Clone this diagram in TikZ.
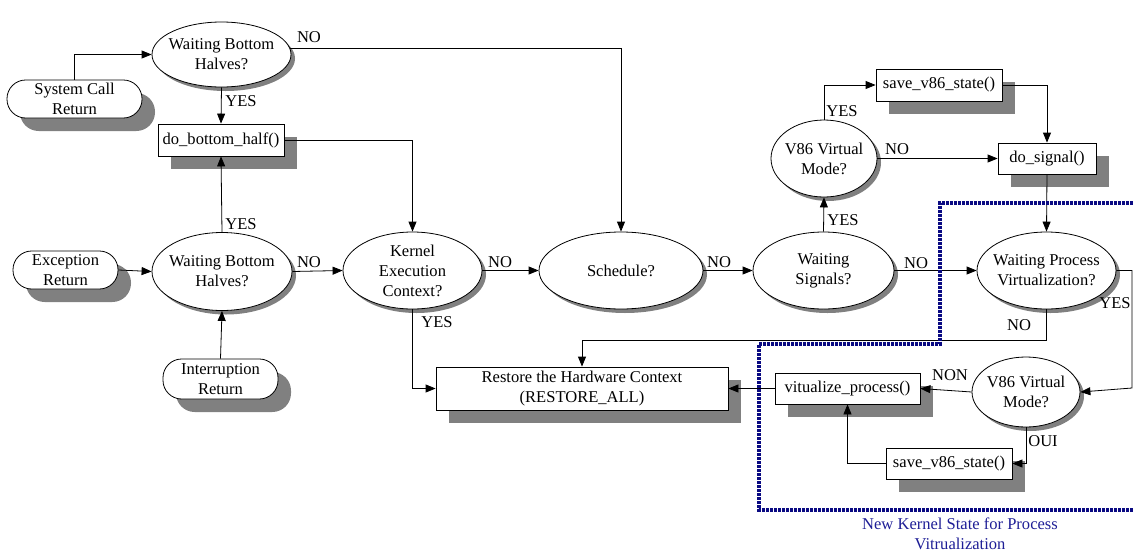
\documentclass[tikz,border=0pt]{standalone}
\usepackage{fontspec}
\setmainfont{Liberation Serif}
\usetikzlibrary{shapes.geometric,shadows,arrows.meta}
\definecolor{shadowgray}{RGB}{128,128,128}
\definecolor{navyline}{RGB}{10,10,130}
\definecolor{navytext}{RGB}{30,30,150}
\begin{document}
\begin{tikzpicture}[x=0.75pt,y=-0.75pt,
  font=\fontsize{12.4}{15}\selectfont,
  line width=0.6pt,
  ell/.style 2 args={ellipse, draw, fill=white, inner sep=0pt,
    minimum width=#1*0.75pt, minimum height=#2*0.75pt,
    drop shadow={shadow xshift=3pt, shadow yshift=-3pt, fill=shadowgray, opacity=1}},
  boxnode/.style 2 args={rectangle, draw, fill=white, inner sep=0pt, align=center,
    minimum width=#1*0.75pt, minimum height=#2*0.75pt,
    drop shadow={shadow xshift=9.75pt, shadow yshift=-9.75pt, fill=shadowgray, opacity=1}},
  pill/.style 2 args={rectangle, rounded corners=14pt, draw, fill=white, inner sep=0pt, align=center,
    minimum width=#1*0.75pt, minimum height=#2*0.75pt,
    drop shadow={shadow xshift=9.75pt, shadow yshift=-9.75pt, fill=shadowgray, opacity=1}},
  txt/.style={align=center, inner sep=0pt},
  lbl/.style={inner sep=0pt},
  arr/.style={draw, -{Triangle[length=7.5pt,width=6pt]}},
  plain/.style={draw}
]
\useasboundingbox (0,0) rectangle (1133,554);

% nodes
\node[pill={135}{38}] (scr) at (74.5,99) {System Call\\Return};
\node[ell={139}{65}, label={[txt]center:{Waiting Bottom\\Halves?}}] (wb1) at (221.5,54.5) {};
\node[boxnode={126}{32}] (dbh) at (221,140) {do\_bottom\_half()};
\node[pill={105}{38}] (exc) at (65.5,270) {Exception\\Return};
\node[ell={140}{78}, label={[txt]center:{Waiting Bottom\\Halves?}}] (wb2) at (222,271.5) {};
\node[pill={115}{40}] (intr) at (220.5,379) {Interruption\\Return};
\node[ell={139}{77}, label={[txt]center:{Kernel\\Execution\\Context?}}] (kec) at (412.5,270.5) {};
\node[ell={164}{77}, label={[txt]center:{Schedule?}}] (sched) at (621,270.5) {};
\node[boxnode={292}{43}] (rest) at (582,388.5) {Restore the Hardware Context\\(RESTORE\_ALL)};
\node[ell={141}{77}, label={[txt]center:{Waiting\\Signals?}}] (ws) at (823.5,270.5) {};
\node[ell={106}{77}, label={[txt]center:{V86 Virtual\\Mode?}}] (v86a) at (824,158.5) {};
\node[boxnode={126}{32}] (sva) at (939,85) {save\_v86\_state()};
\node[boxnode={98}{31}] (dsig) at (1047,158.5) {do\_signal()};
\node[ell={139}{77}, label={[txt]center:{Waiting Process\\Virtualization?}}] (wpv) at (1046.5,270.5) {};
\node[ell={108}{70}, label={[txt]center:{V86 Virtual\\Mode?}}] (v86b) at (1026,392) {};
\node[boxnode={145}{31}] (vp) at (847.5,388.5) {vitualize\_process()};
\node[boxnode={126}{31}] (svb) at (949,463.5) {save\_v86\_state()};

\coordinate (c1) at (1132,388);
\coordinate (c2) at (0,340);

% connectors
\draw[arr] (scr.north) |- (wb1.west);
\draw[arr] (wb1.south) -- (dbh.north);
\draw[arr] (wb1.5) -| (sched.north);
\draw[arr] (dbh.east) -| (kec.north);
\draw[arr] (exc.east) -- (wb2.west);
\draw[arr] (wb2.north) -- (dbh.south);
\draw[arr] (intr.north) -- (wb2.south);
\draw[arr] (wb2.east) -- (kec.west);
\draw[arr] (kec.south) |- (rest.west);
\draw[arr] (kec.east) -- (sched.west);
\draw[arr] (sched.east) -- (ws.west);
\draw[arr] (ws.north) -- (v86a.south);
\draw[arr] (v86a.north) |- (sva.west);
\draw[arr] (sva.east) -| (dsig.north);
\draw[arr] (v86a.east) -- (dsig.west);
\draw[arr] (dsig.south) -- (wpv.north);
\draw[arr] (ws.east) -- (wpv.west);
\draw[arr] (wpv.east) -| (c1) -- (v86b.east);
\draw[arr] (wpv.south) |- (c2 -| rest.north) -- (rest.north);
\draw[arr] (vp.west) -- (rest.east);
\draw[arr] (v86b.west) -- (vp.east);
\draw[arr] (v86b.south) |- (svb.east);
\draw[arr] (svb.west) -| (vp.south);

% labels
\node[lbl] at (309,37) {NO};
\node[lbl] at (241,101) {YES};
\node[lbl] at (241,224) {YES};
\node[lbl] at (309,262) {NO};
\node[lbl] at (437,322) {YES};
\node[lbl] at (500,262) {NO};
\node[lbl] at (719,262) {NO};
\node[lbl] at (843,220) {YES};
\node[lbl] at (842,111) {YES};
\node[lbl] at (897,149) {NO};
\node[lbl] at (916,263) {NO};
\node[lbl] at (1115,303) {YES};
\node[lbl] at (1019,325) {NO};
\node[lbl] at (950,375) {NON};
\node[lbl] at (1043,441) {OUI};

% region border
\draw[navyline, line width=3pt, dash pattern=on 2.25pt off 0.75pt]
  (1133,203) -- (939.5,203) -- (939.5,344) -- (759,344) -- (759,510) -- (1133,510);
\node[txt, text=navytext] (cap) at (960,534) {New Kernel State for Process\\Vitrualization};
\end{tikzpicture}
\end{document}
